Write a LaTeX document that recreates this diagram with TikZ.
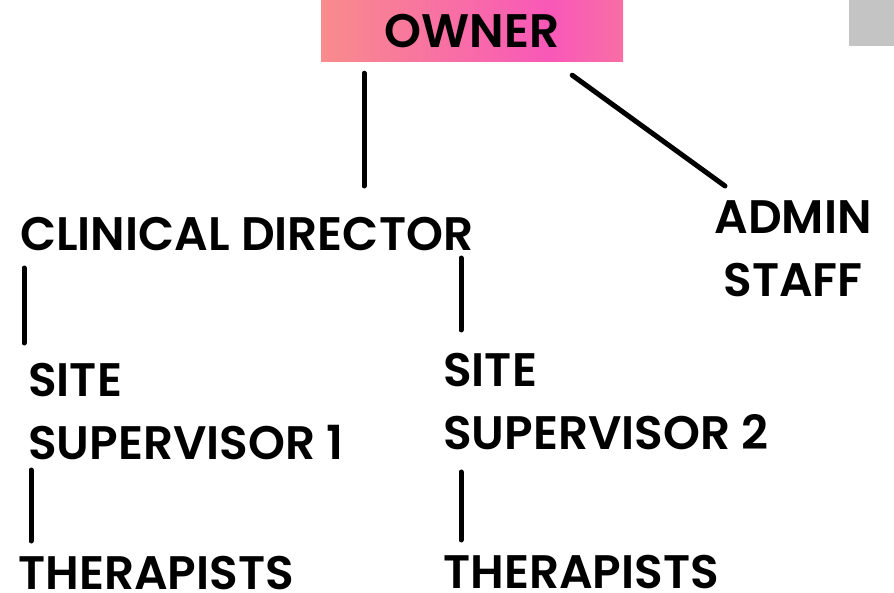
\documentclass[tikz,border=0pt]{standalone}
\usepackage{fontspec}
\setmainfont{Poppins}[BoldFont={Poppins SemiBold}]
\usepackage{tikz}
\usetikzlibrary{positioning}
\definecolor{ownerpink}{RGB}{248,88,184}
\definecolor{ownersalmon}{RGB}{248,140,140}
\definecolor{ownerend}{RGB}{248,110,165}
\definecolor{tabgray}{RGB}{196,196,196}
\pgfdeclarehorizontalshading{ownershade}{100bp}{%
  color(0bp)=(ownersalmon); color(25bp)=(ownersalmon);
  color(63bp)=(ownerpink); color(75bp)=(ownerend); color(100bp)=(ownerend)}

\begin{document}
\begin{tikzpicture}[x=1pt,y=-1pt,
  role/.style={font=\fontsize{47}{63}\selectfont\bfseries, inner sep=0pt, align=left},
  link/.style={line width=5pt, line cap=round}]
			\useasboundingbox (0,0) rectangle (894,593);
			% Nodes
			\node[role, shading=ownershade, minimum width=302pt, minimum height=62pt, align=center] (owner) at (472,31) {OWNER};
			\fill[tabgray] (849,0) rectangle (894,46);
			
			\node[role, anchor=north west] (cd) at (20,217) {CLINICAL DIRECTOR};
			\node[role, anchor=north, align=center] (admin) at (793,200) {ADMIN\\STAFF};
			\node[role, anchor=north west] (sup1) at (28,363) {SITE\\SUPERVISOR 1};
			\node[role, anchor=north west] (sup2) at (443,353) {SITE\\SUPERVISOR 2};
			\node[role, anchor=north west] (ther1) at (18,556) {THERAPISTS};
			\node[role, anchor=north west] (ther2) at (443,555) {THERAPISTS};
			
			% Links
			\draw[link] ([xshift=-108pt,yshift=-11pt]owner.south) -- ([xshift=344pt,yshift=31pt]cd.north west);
			\draw[link] ([xshift=-51pt,yshift=-13pt]owner.south east) -- ([xshift=-68pt,yshift=14pt]admin.north);
			\draw[link] ([xshift=4pt,yshift=-17pt]cd.south west) -- ([xshift=-4pt,yshift=20pt]sup1.north west);
			\draw[link] ([xshift=441pt,yshift=-7pt]cd.south west) -- ([xshift=18pt,yshift=23pt]sup2.north west);
			\draw[link] ([xshift=3pt,yshift=-10pt]sup1.south west) -- ([xshift=13pt,yshift=15pt]ther1.north west);
			\draw[link] ([xshift=18pt,yshift=-22pt]sup2.south west) -- ([xshift=18pt,yshift=15pt]ther2.north west);
			
\end{tikzpicture}
\end{document}
